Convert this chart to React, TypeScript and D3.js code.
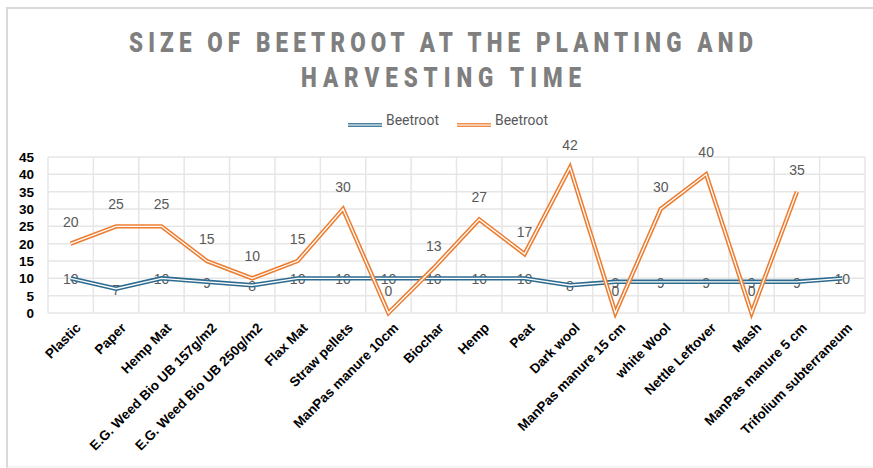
import React from "react";
import * as d3 from "d3";

const categories = [
  "Plastic", "Paper", "Hemp Mat", "E.G. Weed Bio UB 157g/m2", "E.G. Weed Bio UB 250g/m2",
  "Flax Mat", "Straw pellets", "ManPas  manure 10cm", "Biochar", "Hemp", "Peat", "Dark wool",
  "ManPas manure 15 cm", "white Wool", "Nettle Leftover", "Mash", "ManPas manure 5 cm",
  "Trifolium subterraneum",
];
const planting = [10, 7, 10, 9, 8, 10, 10, 10, 10, 10, 10, 8, 9, 9, 9, 9, 9, 10];
const harvesting: (number | null)[] = [20, 25, 25, 15, 10, 15, 30, 0, 13, 27, 17, 42, 0, 30, 40, 0, 35, null];
const yTicks = [0, 5, 10, 15, 20, 25, 30, 35, 40, 45];
const seriesNames = ["Beetroot", "Beetroot"];
const titleLines = ["SIZE OF BEETROOT AT THE PLANTING AND", "HARVESTING TIME"];

const W = 873, H = 468;
const plot = { left: 48, right: 865, top: 157, bottom: 313 };
const BLUE = "#2C6A8E";
const ORANGE = "#ED7D31";

export default function App() {
  const x = d3.scaleBand<string>().domain(categories).range([plot.left, plot.right]).padding(0);
  const y = d3.scaleLinear().domain([0, 45]).range([plot.bottom, plot.top]);
  const cx = (i: number) => (x(categories[i]) as number) + x.bandwidth() / 2;

  const line = d3
    .line<number | null>()
    .defined((d) => d !== null)
    .x((_, i) => cx(i))
    .y((d) => y(d as number));

  const bluePath = line(planting) || "";
  const orangePath = line(harvesting) || "";

  const boundaries = categories.map((c) => x(c) as number).concat([plot.right]);
  const squeeze = 0.8;

  return (
    <svg width={W} height={H} style={{ position: "absolute", left: 0, top: 0, background: "#fff" }}>
      <rect x={0} y={0} width={W} height={H} fill="#fff" />
      {/* frame */}
      <line x1={6} x2={W} y1={8} y2={8} stroke="#d9d9d9" strokeWidth={2} />
      <line x1={7} x2={7} y1={7} y2={H} stroke="#d9d9d9" strokeWidth={2} />
      <line x1={7} x2={W} y1={467} y2={467} stroke="#ececec" strokeWidth={1} />

      {/* title */}
      {titleLines.map((t, i) => (
        <g key={i} transform={`translate(441,${52 + i * 35}) scale(${squeeze},1)`}>
          <text
            x={0}
            y={0}
            textAnchor="middle"
            fontFamily="Roboto, 'Liberation Sans', sans-serif"
            fontWeight={900}
            fontSize={28}
            fill="#7F7F7F"
            textLength={(i === 0 ? 624 : 280) / squeeze}
            lengthAdjust="spacing"
          >
            {t}
          </text>
        </g>
      ))}

      {/* legend */}
      {[BLUE, ORANGE].map((c, i) => {
        const lx = i === 0 ? 348 : 457;
        return (
          <g key={i}>
            <line x1={lx} x2={lx + 34} y1={125} y2={125} stroke={c} strokeWidth={4} opacity={0.85} />
            <line x1={lx} x2={lx + 34} y1={125} y2={125} stroke="#fff" strokeWidth={1.2} />
            <text
              x={lx + 38}
              y={125}
              fontFamily="Roboto, 'Liberation Sans', sans-serif"
              fontSize={14}
              fill="#595959"
              textLength={53}
              lengthAdjust="spacingAndGlyphs"
            >
              {seriesNames[i]}
            </text>
          </g>
        );
      })}

      {/* gridlines */}
      {yTicks.map((t) => (
        <line key={"h" + t} x1={plot.left} x2={plot.right} y1={y(t)} y2={y(t)} stroke="#e6e6e6" strokeWidth={1.5} />
      ))}
      {boundaries.map((b, i) => (
        <line key={"v" + i} x1={b} x2={b} y1={plot.top} y2={plot.bottom} stroke="#e6e6e6" strokeWidth={1.5} />
      ))}

      {/* y axis labels */}
      {yTicks.map((t) => (
        <text
          key={"yl" + t}
          x={34}
          y={y(t)}
          dy="0.36em"
          textAnchor="end"
          fontFamily="'Liberation Sans', Arial, sans-serif"
          fontWeight="bold"
          fontSize={13.5}
          fill="#000"
        >
          {t}
        </text>
      ))}

      {/* x axis labels */}
      {categories.map((c, i) => (
        <text
          key={"xl" + i}
          transform={`translate(${cx(i) + 4},${322}) rotate(-45)`}
          dy="0.71em"
          textAnchor="end"
          fontFamily="'Liberation Sans', Arial, sans-serif"
          fontWeight="bold"
          fontSize={13.5}
          fill="#000"
        >
          {c}
        </text>
      ))}

      {/* blue data labels (centered) */}
      {planting.map((v, i) => (
        <text
          key={"bl" + i}
          x={cx(i)}
          y={y(v) + 1}
          dy="0.36em"
          textAnchor="middle"
          fontFamily="'Liberation Sans', Arial, sans-serif"
          fontSize={14}
          fill="#595959"
        >
          {v}
        </text>
      ))}

      {/* lines (double style) */}
      <path d={bluePath} fill="none" stroke={BLUE} strokeWidth={4.4} strokeLinejoin="miter" />
      <path d={bluePath} fill="none" stroke="#fff" strokeWidth={1.3} strokeLinejoin="miter" />
      <path d={orangePath} fill="none" stroke={ORANGE} strokeWidth={4.4} strokeLinejoin="miter" />
      <path d={orangePath} fill="none" stroke="#fff" strokeWidth={1.3} strokeLinejoin="miter" />

      {/* orange data labels (above) */}
      {harvesting.map((v, i) =>
        v === null ? null : (
          <text
            key={"ol" + i}
            x={cx(i)}
            y={y(v) - 22}
            dy="0.36em"
            textAnchor="middle"
            fontFamily="'Liberation Sans', Arial, sans-serif"
            fontSize={14}
            fill="#595959"
          >
            {v}
          </text>
        )
      )}
    </svg>
  );
}
